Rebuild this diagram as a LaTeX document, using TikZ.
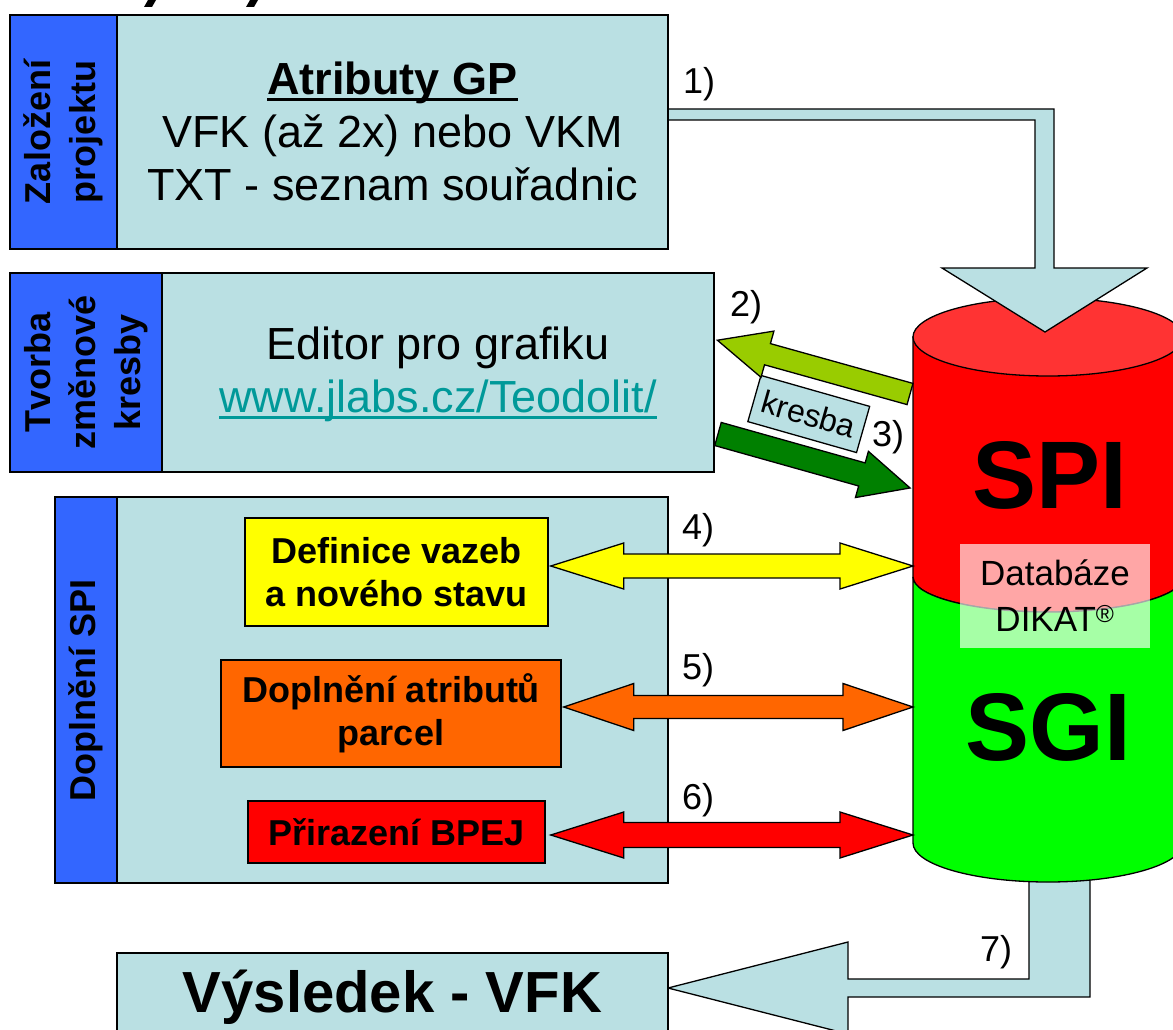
\documentclass[tikz,border=0pt]{standalone}
\usepackage{fontspec}
\setmainfont{Liberation Sans}
\usetikzlibrary{calc}

\definecolor{panel}{HTML}{BAE0E3}
\definecolor{tabblue}{HTML}{3366FF}
\definecolor{linkteal}{HTML}{009999}
\definecolor{lightgreen}{HTML}{99CC00}
\definecolor{darkgreen}{HTML}{008000}
\definecolor{canred}{HTML}{FF0000}
\definecolor{cantop}{HTML}{FF3333}
\definecolor{cangreen}{HTML}{00FF00}
\definecolor{boxyellow}{HTML}{FFFF00}
\definecolor{boxorange}{HTML}{FF6600}
\definecolor{boxred}{HTML}{FF0000}

% underline with a chosen rule thickness and gap below the baseline
\newcommand\thickul[3]{\leavevmode\vtop{\hbox{\vphantom{A}\smash{#3}}\kern#2\hrule height #1}}

% straight block arrow: style, tail point, angle, length, shaft half width, head half width, head length
\newcommand\rotarrow[7]{%
  \draw[#1, shift={#2}, rotate=#3] (0,-#5) -- ({#4-#7},-#5) -- ({#4-#7},-#6) -- (#4,0)
    -- ({#4-#7},#6) -- ({#4-#7},#5) -- (0,#5) -- cycle;}

% two-headed block arrow between two named tips: style, left tip, right tip, shaft half, head half, head length
\newcommand\dblarrow[6]{%
  \draw[#1] (#2) -- ($(#2)+(#6,-#5)$) -- ($(#2)+(#6,-#4)$) -- ($(#3)+(-#6,-#4)$)
    -- ($(#3)+(-#6,-#5)$) -- (#3) -- ($(#3)+(-#6,#5)$) -- ($(#3)+(-#6,#4)$)
    -- ($(#2)+(#6,#4)$) -- ($(#2)+(#6,#5)$) -- cycle;}

\tikzset{
  panelbox/.style={draw=black, line width=1.5pt, fill=panel, inner sep=0pt},
  tabbox/.style={draw=black, line width=1.5pt, fill=tabblue, inner sep=0pt, rotate=90,
    align=center, font=\fontsize{36}{45}\selectfont\bfseries},
  bodytext/.style={align=center, font=\fontsize{45}{53}\selectfont},
  taskbox/.style={draw=black, line width=1.5pt, inner sep=0pt, align=center,
    font=\fontsize{36}{43}\selectfont\bfseries},
  numlabel/.style={inner sep=0pt, font=\fontsize{36}{40}\selectfont},
  blockarrow/.style={draw=black, line width=1.3pt, line join=miter},
  canedge/.style={draw=black, line width=1.3pt},
}

\begin{document}
\begin{tikzpicture}[x=1pt, y=-1pt]
\useasboundingbox (0,0) rectangle (1173,1030);
\clip (0,0) rectangle (1173,1030);

% descenders of the heading above the frame
\fill (148,0) -- (156,0) -- (152,7) -- (144,7) -- cycle;
\fill (250,0) -- (258,0) -- (254,7) -- (246,7) -- cycle;

% 7) output arrow, leaving the bottom of the database
\draw[blockarrow, fill=panel] (1029,850) -- (1029,979) -- (848,979) -- (848,942) -- (668,988)
  -- (848,1034) -- (848,997) -- (1090,997) -- (1090,850) -- cycle;

% database cylinder
\coordinate (can) at (1048,590);
\coordinate (canwest) at (913,590);
\draw[canedge, fill=canred] (913,337) -- (913,577)
  arc[start angle=180, end angle=360, x radius=135pt, y radius=35pt] -- (1183,337) -- cycle;
\draw[canedge, fill=cangreen] (913,577)
  arc[start angle=180, end angle=360, x radius=135pt, y radius=35pt] -- (1183,843)
  arc[start angle=0, end angle=-180, x radius=135pt, y radius=39pt] -- cycle;
\draw[canedge, fill=cantop] (1048,337) ellipse[x radius=135pt, y radius=39pt];
\node[inner sep=0pt, font=\fontsize{96}{100}\selectfont\bfseries] (spi) at (1050,475) {SPI};
\node[inner sep=0pt, font=\fontsize{96}{100}\selectfont\bfseries] (sgi) at (1048,727) {SGI};
\node[fill=white, fill opacity=0.65, text opacity=1, inner sep=0pt, minimum width=190pt,
  minimum height=104pt, align=center, font=\fontsize{35}{46}\selectfont] (db) at (1055,596)
  {Databáze\\DIKAT\textsuperscript{®}};

% 1) input arrow into the database
\draw[blockarrow, fill=panel] (600,109) -- (1054,109) -- (1054,268) -- (1147,268) -- (1045,332)
  -- (942,268) -- (1035,268) -- (1035,120) -- (600,120) -- cycle;

% project set-up
\node[tabbox, minimum width=234pt, minimum height=107pt] (tab1) at (63.5,132) {Založení\\projektu};
\node[panelbox, bodytext, minimum width=551pt, minimum height=234pt] (gp) at (392.5,132)
  {\thickul{3pt}{4pt}{\bfseries Atributy GP}\\VFK (až 2x) nebo VKM\\TXT - seznam souřadnic};

% drawing of changes
\node[tabbox, minimum width=199pt, minimum height=152pt] (tab2) at (86,372.5) {Tvorba\\změnové\\kresby};
\node[panelbox, bodytext, minimum width=552pt, minimum height=199pt] (editor) at (438,372.5)
  {Editor pro grafiku\\\textcolor{linkteal}{\thickul{2.5pt}{4pt}{www.jlabs.cz/Teodolit/}}};

% completing SPI
\node[tabbox, minimum width=386pt, minimum height=62pt] (tab3) at (86,690) {Doplnění SPI};
\node[panelbox, minimum width=551pt, minimum height=386pt] (spipanel) at (392.5,690) {};
\node[taskbox, fill=boxyellow, minimum width=303pt, minimum height=108pt] (vazby) at (396.5,572)
  {Definice vazeb\\a nového stavu};
\node[taskbox, fill=boxorange, minimum width=340pt, minimum height=107pt] (atributy) at (391,713.5)
  {Doplnění atributů\\parcel};
\node[taskbox, fill=boxred, minimum width=297pt, minimum height=62pt] (bpej) at (396.5,832)
  {Přirazení BPEJ};

% label between arrows 2) and 3)
\node[fill=white, rotate=-15.9, inner sep=0pt, minimum width=127pt, minimum height=66pt] (kback) at (813,413.5) {};
\node[draw=black, line width=1.3pt, fill=panel, rotate=-15.9, inner sep=0pt, minimum width=113pt,
  minimum height=48pt, font=\fontsize{32}{36}\selectfont] (kresba) at (808.75,414) {kresba};

% 2) and 3) exchange with the editor
\rotarrow{blockarrow, fill=lightgreen}{(910,394)}{164.4}{200}{11}{24}{52}
\rotarrow{blockarrow, fill=darkgreen}{(718,434)}{-15.7}{199.5}{12}{24}{50}

% 4) 5) 6) two-way links between tasks and the database
\path ([xshift=2pt, yshift=6pt]vazby.east) coordinate (l4) (l4 -| canwest) coordinate (r4);
\path ([xshift=2pt, yshift=6.5pt]atributy.east) coordinate (l5) (l5 -| canwest) coordinate (r5);
\path ([xshift=5pt, yshift=-3pt]bpej.east) coordinate (l6) (l6 -| canwest) coordinate (r6);
\dblarrow{blockarrow, fill=boxyellow}{l4}{r4}{12}{23}{73}
\dblarrow{blockarrow, fill=boxorange}{l5}{r5}{11.5}{23.5}{70}
\dblarrow{blockarrow, fill=boxred}{l6}{r6}{12.5}{23}{73}

% result
\node[panelbox, minimum width=551pt, minimum height=88pt, font=\fontsize{58}{64}\selectfont\bfseries]
  (result) at (392.5,997) {Výsledek - VFK};

% step numbers
\node[numlabel] (n1) at (699,84) {1)};
\node[numlabel] (n2) at (746,307) {2)};
\node[numlabel] (n3) at (888,437) {3)};
\node[numlabel] (n4) at (698,530) {4)};
\node[numlabel] (n5) at (698,670) {5)};
\node[numlabel] (n6) at (698,800) {6)};
\node[numlabel] (n7) at (996,952) {7)};
\end{tikzpicture}
\end{document}
